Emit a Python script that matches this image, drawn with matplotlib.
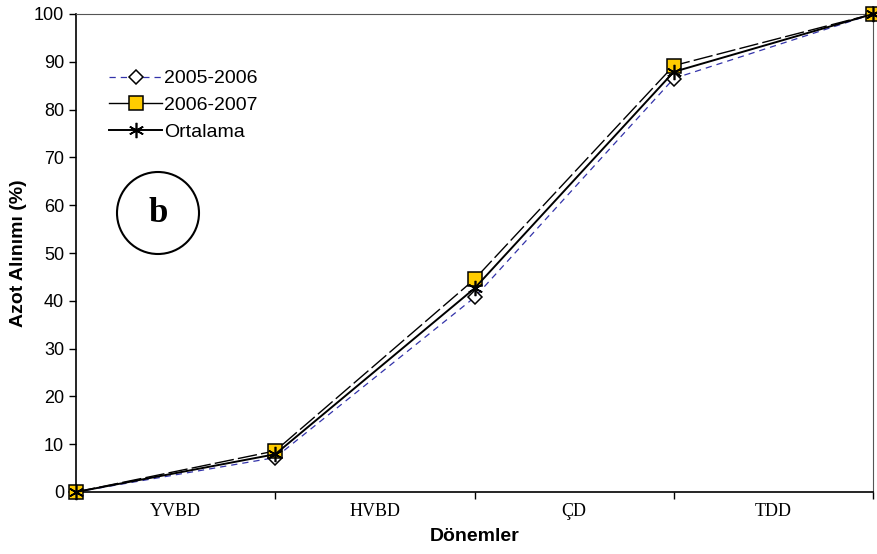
import matplotlib.pyplot as plt
from matplotlib.patches import Ellipse
from matplotlib.lines import Line2D

periods = ["YVBD", "HVBD", "ÇD", "TDD"]
x_points = [0, 1, 2, 3, 4]
y_2005_2006 = [0, 7.2, 40.7, 86.5, 100]
y_2006_2007 = [0, 8.6, 44.5, 89.2, 100]
y_mean = [0, 7.9, 42.6, 87.9, 100]

fig = plt.figure(figsize=(8.77, 5.54), dpi=100)
ax = fig.add_axes([76 / 877, 1 - 492 / 554, (873 - 76) / 877, (492 - 14) / 554])

# 2005-2006: thin blue dashed, open diamonds
ax.plot(x_points, y_2005_2006, color="#3333aa", lw=0.9, ls=(0, (5, 4)),
        marker="D", ms=7, mfc="white", mec="black", mew=1.1, zorder=3)
# 2006-2007: thin black long-dash, yellow squares
ax.plot(x_points, y_2006_2007, color="black", lw=1.0, ls=(0, (14, 3)),
        marker="s", ms=10, mfc="#ffcc00", mec="black", mew=1.1, zorder=4)
# Ortalama: solid black, star markers
ax.plot(x_points, y_mean, color="black", lw=1.4,
        marker=(6, 2, 0), ms=11, mec="black", mew=1.2, zorder=5)

ax.set_xlim(0, 4)
ax.set_ylim(0, 100)
ax.set_yticks(range(0, 101, 10))
ax.set_yticklabels([str(v) for v in range(0, 101, 10)],
                   fontfamily="Liberation Sans", fontsize=13)
ax.set_xticks(x_points)
ax.set_xticklabels([""] * 5)
ax.set_xticks([0.5, 1.5, 2.5, 3.5], minor=True)
ax.set_xticklabels(periods, minor=True, fontfamily="Liberation Serif", fontsize=13)
ax.tick_params(axis="x", which="minor", length=0, pad=8)
ax.tick_params(axis="both", which="major", direction="out", length=5, width=1)

ax.set_ylabel("Azot Alınımı (%)", fontfamily="Liberation Sans", fontsize=14,
              fontweight="bold", labelpad=5)
ax.set_xlabel("Dönemler", fontfamily="Liberation Sans", fontsize=14,
              fontweight="bold", labelpad=6)

for side in ["top", "right"]:
    ax.spines[side].set_color("#555555")
for side in ["left", "bottom"]:
    ax.spines[side].set_color("black")
    ax.spines[side].set_linewidth(1.2)

for m in ax.get_lines():
    m.set_clip_on(False)

# legend
handles = [
    Line2D([], [], color="#3333aa", lw=0.9, ls=(0, (5, 4)), marker="D", ms=7,
           mfc="white", mec="black", mew=1.1),
    Line2D([], [], color="black", lw=1.0, marker="s", ms=10,
           mfc="#ffcc00", mec="black", mew=1.1),
    Line2D([], [], color="black", lw=1.4, marker=(6, 2, 0), ms=11,
           mec="black", mew=1.2),
]
leg = ax.legend(handles, ["2005-2006", "2006-2007", "Ortalama"],
                loc="upper left", bbox_to_anchor=(0.02, 0.92), frameon=False,
                prop={"family": "Liberation Sans", "size": 14},
                handlelength=2.7, handletextpad=0.1, labelspacing=0.48)

# circled "b"
circ = Ellipse((158 / 877, 1 - 213 / 554), 82 / 877, 82 / 554,
               transform=fig.transFigure, fill=False, ec="black", lw=1.5)
fig.patches.append(circ)
fig.text(158 / 877, 1 - 213 / 554, "b", ha="center", va="center",
         fontfamily="Liberation Serif", fontsize=25, fontweight="bold")

fig.savefig("out.png", dpi=100)
